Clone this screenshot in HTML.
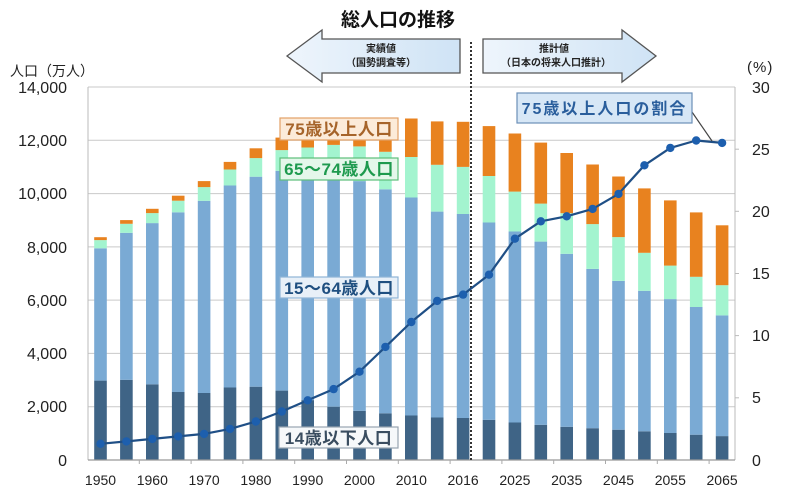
<!DOCTYPE html>
<html><head><meta charset="utf-8"><style>
html,body{margin:0;padding:0;background:#fff;}
svg{display:block;}
text{font-family:"Liberation Sans","Noto Sans CJK JP",sans-serif;}
</style></head><body>
<svg width="800" height="491" viewBox="0 0 800 491" xmlns="http://www.w3.org/2000/svg">
<defs>
<linearGradient id="ag" x1="0" y1="0" x2="1" y2="0">
<stop offset="0" stop-color="#eef5fc"/><stop offset="1" stop-color="#cfe3f5"/>
</linearGradient>
</defs>
<rect width="800" height="491" fill="#fff"/>
<!-- title -->
<text x="398" y="26" font-size="19" font-weight="bold" text-anchor="middle" fill="#111">総人口の推移</text>
<!-- arrows -->
<polygon points="287,56 322,30 322,39 460,39 460,73 322,73 322,82" fill="url(#ag)" stroke="#555" stroke-width="1.3"/>
<text x="381" y="52" font-size="10" font-weight="bold" text-anchor="middle" fill="#222">実績値</text>
<text x="381" y="66" font-size="10" font-weight="bold" text-anchor="middle" fill="#222">（国勢調査等）</text>
<polygon points="483,39 622,39 622,30 656,56 622,82 622,73 483,73" fill="url(#ag)" stroke="#555" stroke-width="1.3"/>
<text x="554" y="52" font-size="10" font-weight="bold" text-anchor="middle" fill="#222">推計値</text>
<text x="556" y="66" font-size="10" font-weight="bold" text-anchor="middle" fill="#222">（日本の将来人口推計）</text>
<!-- axis titles -->
<text x="10" y="76" font-size="14" fill="#222">人口（万人）</text>
<text x="747" y="72" font-size="15" fill="#222" letter-spacing="1">(%)</text>
<!-- gridlines -->
<g stroke="#c9c9c9" stroke-width="1">
<line x1="88" y1="87" x2="735" y2="87"/>
<line x1="88" y1="140.3" x2="735" y2="140.3"/>
<line x1="88" y1="193.6" x2="735" y2="193.6"/>
<line x1="88" y1="246.9" x2="735" y2="246.9"/>
<line x1="88" y1="300.1" x2="735" y2="300.1"/>
<line x1="88" y1="353.4" x2="735" y2="353.4"/>
<line x1="88" y1="406.7" x2="735" y2="406.7"/>
</g>
<line x1="88" y1="87" x2="88" y2="460" stroke="#bbb"/>
<line x1="735" y1="87" x2="735" y2="460" stroke="#bbb"/>
<g stroke="#bbb">
<line x1="735" y1="149.2" x2="739" y2="149.2"/><line x1="735" y1="211.3" x2="739" y2="211.3"/>
<line x1="735" y1="273.5" x2="739" y2="273.5"/><line x1="735" y1="335.6" x2="739" y2="335.6"/>
<line x1="735" y1="397.8" x2="739" y2="397.8"/>
</g>
<!-- left labels -->
<g font-size="16" fill="#222" text-anchor="end">
<text x="67" y="93">14,000</text>
<text x="67" y="146">12,000</text>
<text x="67" y="199">10,000</text>
<text x="67" y="253">8,000</text>
<text x="67" y="306">6,000</text>
<text x="67" y="359">4,000</text>
<text x="67" y="412">2,000</text>
<text x="67" y="466">0</text>
</g>
<g font-size="16" fill="#222">
<text x="752" y="93">30</text>
<text x="752" y="155">25</text>
<text x="752" y="217">20</text>
<text x="752" y="279">15</text>
<text x="752" y="341">10</text>
<text x="752" y="403">5</text>
<text x="752" y="466">0</text>
</g>
<!-- bars -->
<g id="bars">
<!-- each: dark(0-14), light(15-64), mint(65-74), orange(75+) -->
</g>
<g>
<!-- dark -->
<g fill="#3f6486">
<rect x="94.2" y="380.6" width="12.6" height="79.4"/>
<rect x="120.1" y="379.8" width="12.6" height="80.2"/>
<rect x="146.0" y="384.3" width="12.6" height="75.7"/>
<rect x="171.9" y="392.0" width="12.6" height="68.0"/>
<rect x="197.8" y="393.0" width="12.6" height="67.0"/>
<rect x="223.7" y="387.5" width="12.6" height="72.5"/>
<rect x="249.6" y="386.7" width="12.6" height="73.3"/>
<rect x="275.5" y="390.6" width="12.6" height="69.4"/>
<rect x="301.4" y="400.1" width="12.6" height="59.9"/>
<rect x="327.3" y="406.7" width="12.6" height="53.3"/>
<rect x="353.2" y="410.8" width="12.6" height="49.2"/>
<rect x="379.1" y="413.3" width="12.6" height="46.7"/>
<rect x="405.0" y="415.5" width="12.6" height="44.5"/>
<rect x="430.9" y="417.5" width="12.6" height="42.5"/>
<rect x="456.8" y="418.0" width="12.6" height="42.0"/>
<rect x="482.7" y="419.8" width="12.6" height="40.2"/>
<rect x="508.6" y="422.5" width="12.6" height="37.5"/>
<rect x="534.5" y="424.8" width="12.6" height="35.2"/>
<rect x="560.4" y="426.8" width="12.6" height="33.2"/>
<rect x="586.3" y="428.2" width="12.6" height="31.8"/>
<rect x="612.2" y="429.7" width="12.6" height="30.3"/>
<rect x="638.1" y="431.3" width="12.6" height="28.7"/>
<rect x="664.0" y="433.0" width="12.6" height="27.0"/>
<rect x="689.9" y="434.7" width="12.6" height="25.3"/>
<rect x="715.8" y="436.1" width="12.6" height="23.9"/>
</g>
<!-- light -->
<g fill="#7aaad4">
<rect x="94.2" y="248.3" width="12.6" height="132.3"/>
<rect x="120.1" y="232.8" width="12.6" height="147.0"/>
<rect x="146.0" y="223.1" width="12.6" height="161.2"/>
<rect x="171.9" y="212.3" width="12.6" height="179.7"/>
<rect x="197.8" y="200.8" width="12.6" height="192.2"/>
<rect x="223.7" y="185.5" width="12.6" height="202.0"/>
<rect x="249.6" y="176.7" width="12.6" height="210.0"/>
<rect x="275.5" y="170.8" width="12.6" height="219.8"/>
<rect x="301.4" y="171.2" width="12.6" height="228.9"/>
<rect x="327.3" y="174.5" width="12.6" height="232.2"/>
<rect x="353.2" y="181.1" width="12.6" height="229.7"/>
<rect x="379.1" y="189.3" width="12.6" height="224.0"/>
<rect x="405.0" y="197.5" width="12.6" height="218.0"/>
<rect x="430.9" y="211.6" width="12.6" height="205.9"/>
<rect x="456.8" y="214.0" width="12.6" height="204.0"/>
<rect x="482.7" y="222.5" width="12.6" height="197.3"/>
<rect x="508.6" y="231.5" width="12.6" height="191.0"/>
<rect x="534.5" y="241.6" width="12.6" height="183.2"/>
<rect x="560.4" y="253.8" width="12.6" height="173.0"/>
<rect x="586.3" y="268.9" width="12.6" height="159.3"/>
<rect x="612.2" y="280.9" width="12.6" height="148.8"/>
<rect x="638.1" y="290.8" width="12.6" height="140.5"/>
<rect x="664.0" y="299.1" width="12.6" height="133.9"/>
<rect x="689.9" y="307.0" width="12.6" height="127.7"/>
<rect x="715.8" y="315.4" width="12.6" height="120.7"/>
</g>
<!-- mint -->
<g fill="#a3f4cf">
<rect x="94.2" y="240.1" width="12.6" height="8.2"/>
<rect x="120.1" y="223.8" width="12.6" height="9.0"/>
<rect x="146.0" y="213.1" width="12.6" height="10.0"/>
<rect x="171.9" y="200.7" width="12.6" height="11.6"/>
<rect x="197.8" y="187.1" width="12.6" height="13.7"/>
<rect x="223.7" y="169.5" width="12.6" height="16.0"/>
<rect x="249.6" y="158.1" width="12.6" height="18.6"/>
<rect x="275.5" y="150.1" width="12.6" height="20.7"/>
<rect x="301.4" y="147.5" width="12.6" height="23.7"/>
<rect x="327.3" y="144.9" width="12.6" height="29.6"/>
<rect x="353.2" y="146.4" width="12.6" height="34.7"/>
<rect x="379.1" y="151.8" width="12.6" height="37.5"/>
<rect x="405.0" y="157.0" width="12.6" height="40.5"/>
<rect x="430.9" y="164.8" width="12.6" height="46.8"/>
<rect x="456.8" y="166.9" width="12.6" height="47.1"/>
<rect x="482.7" y="176.0" width="12.6" height="46.5"/>
<rect x="508.6" y="191.6" width="12.6" height="39.9"/>
<rect x="534.5" y="203.6" width="12.6" height="38.0"/>
<rect x="560.4" y="213.2" width="12.6" height="40.6"/>
<rect x="586.3" y="224.1" width="12.6" height="44.8"/>
<rect x="612.2" y="237.1" width="12.6" height="43.8"/>
<rect x="638.1" y="252.8" width="12.6" height="38.0"/>
<rect x="664.0" y="265.6" width="12.6" height="33.5"/>
<rect x="689.9" y="276.8" width="12.6" height="30.2"/>
<rect x="715.8" y="285.2" width="12.6" height="30.2"/>
</g>
<!-- orange -->
<g fill="#e8821f">
<rect x="94.2" y="237.2" width="12.6" height="2.9"/>
<rect x="120.1" y="220.1" width="12.6" height="3.7"/>
<rect x="146.0" y="208.8" width="12.6" height="4.3"/>
<rect x="171.9" y="195.7" width="12.6" height="5.0"/>
<rect x="197.8" y="181.1" width="12.6" height="6.0"/>
<rect x="223.7" y="161.9" width="12.6" height="7.6"/>
<rect x="249.6" y="148.3" width="12.6" height="9.8"/>
<rect x="275.5" y="137.6" width="12.6" height="12.5"/>
<rect x="301.4" y="131.5" width="12.6" height="16.0"/>
<rect x="327.3" y="125.8" width="12.6" height="19.1"/>
<rect x="353.2" y="122.4" width="12.6" height="24.0"/>
<rect x="379.1" y="120.9" width="12.6" height="30.9"/>
<rect x="405.0" y="118.5" width="12.6" height="38.5"/>
<rect x="430.9" y="121.4" width="12.6" height="43.4"/>
<rect x="456.8" y="121.8" width="12.6" height="45.1"/>
<rect x="482.7" y="126.1" width="12.6" height="49.9"/>
<rect x="508.6" y="133.5" width="12.6" height="58.1"/>
<rect x="534.5" y="142.6" width="12.6" height="61.0"/>
<rect x="560.4" y="153.0" width="12.6" height="60.2"/>
<rect x="586.3" y="164.5" width="12.6" height="59.6"/>
<rect x="612.2" y="176.5" width="12.6" height="60.6"/>
<rect x="638.1" y="188.4" width="12.6" height="64.4"/>
<rect x="664.0" y="200.4" width="12.6" height="65.2"/>
<rect x="689.9" y="212.4" width="12.6" height="64.4"/>
<rect x="715.8" y="225.3" width="12.6" height="59.9"/>
</g>
</g>
<!-- bottom axis -->
<line x1="88" y1="460" x2="735" y2="460" stroke="#999" stroke-width="1.2"/>
<g stroke="#aaa">
<line x1="139.3" y1="460" x2="139.3" y2="464"/><line x1="191.1" y1="460" x2="191.1" y2="464"/>
<line x1="242.9" y1="460" x2="242.9" y2="464"/><line x1="294.7" y1="460" x2="294.7" y2="464"/>
<line x1="346.5" y1="460" x2="346.5" y2="464"/><line x1="398.3" y1="460" x2="398.3" y2="464"/>
<line x1="450.1" y1="460" x2="450.1" y2="464"/><line x1="501.9" y1="460" x2="501.9" y2="464"/>
<line x1="553.7" y1="460" x2="553.7" y2="464"/><line x1="605.5" y1="460" x2="605.5" y2="464"/>
<line x1="657.3" y1="460" x2="657.3" y2="464"/><line x1="709.1" y1="460" x2="709.1" y2="464"/>
</g>
<!-- dotted divider -->
<line x1="471" y1="42" x2="471" y2="460" stroke="#333" stroke-width="2" stroke-dasharray="2,2"/>
<!-- x labels -->
<g font-size="14" fill="#222" text-anchor="middle">
<text x="100.5" y="485">1950</text>
<text x="152.3" y="485">1960</text>
<text x="204.1" y="485">1970</text>
<text x="255.9" y="485">1980</text>
<text x="307.7" y="485">1990</text>
<text x="359.5" y="485">2000</text>
<text x="411.3" y="485">2010</text>
<text x="463.1" y="485">2016</text>
<text x="514.9" y="485">2025</text>
<text x="566.7" y="485">2035</text>
<text x="618.5" y="485">2045</text>
<text x="670.3" y="485">2055</text>
<text x="722.1" y="485">2065</text>
</g>
<!-- line -->
<polyline fill="none" stroke="#1f4f86" stroke-width="2.2" stroke-linejoin="round" points="100.5,443.8 126.4,441.4 152.3,438.9 178.2,436.4 204.1,433.9 230.0,428.9 255.9,421.5 281.8,411.5 307.7,400.3 333.6,389.1 359.5,371.7 385.4,346.9 411.3,322.0 437.2,300.9 463.1,294.6 489.0,274.7 514.9,238.7 540.8,221.3 566.7,216.3 592.6,208.9 618.5,193.9 644.4,165.3 670.3,147.9 696.2,140.5 722.1,142.9"/>
<g fill="#1d5fae">
<circle cx="100.5" cy="443.8" r="4.2"/><circle cx="126.4" cy="441.4" r="4.2"/><circle cx="152.3" cy="438.9" r="4.2"/>
<circle cx="178.2" cy="436.4" r="4.2"/><circle cx="204.1" cy="433.9" r="4.2"/><circle cx="230.0" cy="428.9" r="4.2"/>
<circle cx="255.9" cy="421.5" r="4.2"/><circle cx="281.8" cy="411.5" r="4.2"/><circle cx="307.7" cy="400.3" r="4.2"/>
<circle cx="333.6" cy="389.1" r="4.2"/><circle cx="359.5" cy="371.7" r="4.2"/><circle cx="385.4" cy="346.9" r="4.2"/>
<circle cx="411.3" cy="322.0" r="4.2"/><circle cx="437.2" cy="300.9" r="4.2"/><circle cx="463.1" cy="294.6" r="4.2"/>
<circle cx="489.0" cy="274.7" r="4.2"/><circle cx="514.9" cy="238.7" r="4.2"/><circle cx="540.8" cy="221.3" r="4.2"/>
<circle cx="566.7" cy="216.3" r="4.2"/><circle cx="592.6" cy="208.9" r="4.2"/><circle cx="618.5" cy="193.9" r="4.2"/>
<circle cx="644.4" cy="165.3" r="4.2"/><circle cx="670.3" cy="147.9" r="4.2"/><circle cx="696.2" cy="140.5" r="4.2"/>
<circle cx="722.1" cy="142.9" r="4.2"/>
</g>
<!-- label boxes -->
<rect x="280" y="118" width="118" height="22" fill="#fcebd9" stroke="#e2a066" stroke-width="1.2"/>
<text x="339" y="135" font-size="17" font-weight="bold" text-anchor="middle" fill="#a6642a" letter-spacing="0.5">75歳以上人口</text>
<rect x="280" y="158" width="118" height="22" fill="#e4f7ea" stroke="#5cbf7a" stroke-width="1.2"/>
<text x="339" y="175" font-size="17" font-weight="bold" text-anchor="middle" fill="#1e9a4e" letter-spacing="0.5">65～74歳人口</text>
<rect x="280" y="277" width="118" height="21" fill="#e8f0f8" stroke="#8fb3d6" stroke-width="1.2"/>
<text x="339" y="294" font-size="17" font-weight="bold" text-anchor="middle" fill="#1f4f80" letter-spacing="0.5">15～64歳人口</text>
<rect x="279" y="427" width="119" height="21" fill="#f6f8fa" stroke="#98a4b0" stroke-width="1.2"/>
<text x="338.5" y="444" font-size="17" font-weight="bold" text-anchor="middle" fill="#3a4d60" letter-spacing="0.5">14歳以下人口</text>
<line x1="692" y1="112" x2="712" y2="141" stroke="#444" stroke-width="1.2"/>
<rect x="517" y="93" width="175" height="30" fill="#d7e7f6" stroke="#6c8fb8" stroke-width="1.2"/>
<text x="604.5" y="114" font-size="16" font-weight="bold" text-anchor="middle" fill="#2a5e9c" letter-spacing="2">75歳以上人口の割合</text>
</svg>
</body></html>
